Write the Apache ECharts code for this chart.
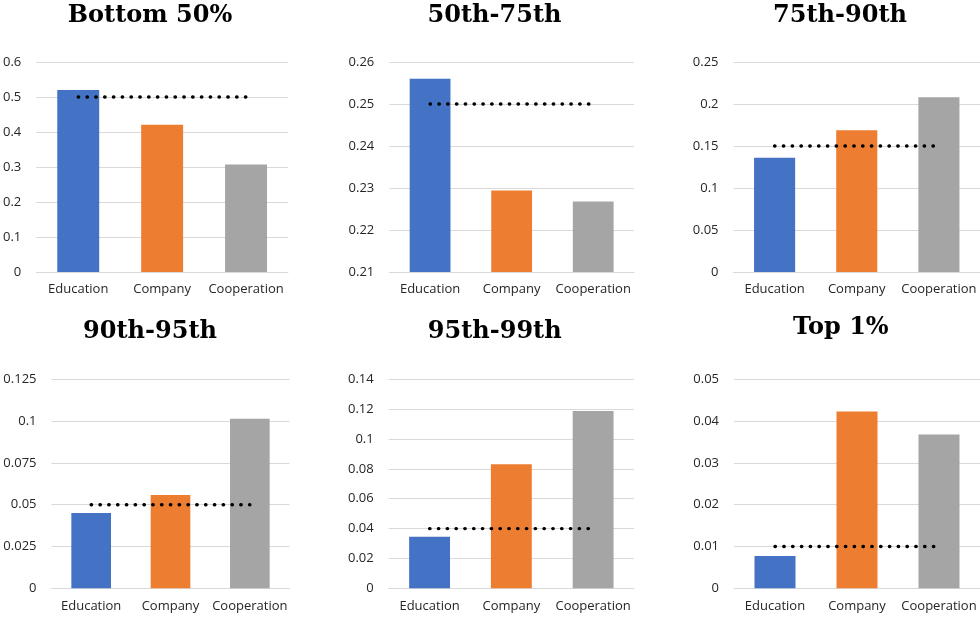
<!DOCTYPE html>
<html>
<head>
<meta charset="utf-8">
<script src="https://cdn.jsdelivr.net/npm/echarts@6/dist/echarts.min.js"></script>
<style>html,body{margin:0;padding:0;background:#fff}#c{width:980px;height:619px}</style>
</head>
<body>
<div id="c"></div>
<script>
const categories = ['Education', 'Company', 'Cooperation'];
const titles = ['Bottom 50%', '50th-75th', '75th-90th', '90th-95th', '95th-99th', 'Top 1%'];
const education = [0.52, 0.256, 0.136, 0.045, 0.0345, 0.0077];
const company = [0.421, 0.2294, 0.1687, 0.0558, 0.0831, 0.0423];
const cooperation = [0.307, 0.2268, 0.208, 0.1014, 0.1188, 0.0368];
const benchmark = [0.5, 0.25, 0.15, 0.05, 0.04, 0.01];
const yMin = [0, 0.21, 0, 0, 0, 0];
const yMax = [0.6, 0.26, 0.25, 0.125, 0.14, 0.05];
const yStep = [0.1, 0.01, 0.05, 0.025, 0.02, 0.01];

// layout (style only)
const palette = ['#4472C4', '#ED7D31', '#A5A5A5'];
const grids = [
  {left: 35, top: 62, width: 253, height: 210},
  {left: 389.3, top: 62, width: 244.7, height: 210},
  {left: 733.5, top: 62, width: 246.5, height: 210},
  {left: 51.5, top: 379.3, width: 238, height: 209},
  {left: 388.7, top: 379.3, width: 245.3, height: 209},
  {left: 734, top: 379.3, width: 246, height: 209}
];
const titlePos = [[150, 15.4], [494.5, 15.4], [840, 15.4], [150, 331.5], [494.7, 331.5], [840.8, 327.3]];

const option = {
  animation: false,
  backgroundColor: '#fff',
  title: titles.map((t, i) => ({
    text: t,
    left: titlePos[i][0],
    top: titlePos[i][1],
    textAlign: 'center',
    textVerticalAlign: 'middle',
    padding: 0,
    textStyle: {fontFamily: 'DejaVu Serif', fontWeight: 'bold', fontSize: 24, color: '#000'}
  })),
  grid: grids.map(g => Object.assign({containLabel: false}, g)),
  xAxis: grids.map((g, i) => ({
    type: 'category', gridIndex: i, data: categories,
    axisLine: {show: true, lineStyle: {color: '#d9d9d9', width: 1}},
    axisTick: {show: false},
    axisLabel: {fontFamily: 'Open Sans', fontSize: 13, color: '#262626', margin: 11, interval: 0}
  })),
  yAxis: grids.map((g, i) => ({
    type: 'value', gridIndex: i, min: yMin[i], max: yMax[i], interval: yStep[i],
    axisLine: {show: false}, axisTick: {show: false},
    splitLine: {lineStyle: {color: '#d9d9d9', width: 1}},
    axisLabel: {fontFamily: 'Open Sans', fontSize: 13, color: '#262626', margin: 15}
  })),
  series: []
};

grids.forEach((g, i) => {
  const vals = [education[i], company[i], cooperation[i]];
  option.series.push({
    type: 'bar', xAxisIndex: i, yAxisIndex: i, barWidth: '50%',
    data: vals.map((v, k) => ({value: v, itemStyle: {color: palette[k]}}))
  });
  option.series.push({
    type: 'line', xAxisIndex: i, yAxisIndex: i, symbol: 'none', z: 5,
    data: categories.map(() => benchmark[i]),
    lineStyle: {color: '#000', width: 3.4, type: [0.4, 8.4], cap: 'round'}
  });
});

const chart = echarts.init(document.getElementById('c'), null, {renderer: 'canvas'});
chart.setOption(option);
</script>
</body>
</html>
